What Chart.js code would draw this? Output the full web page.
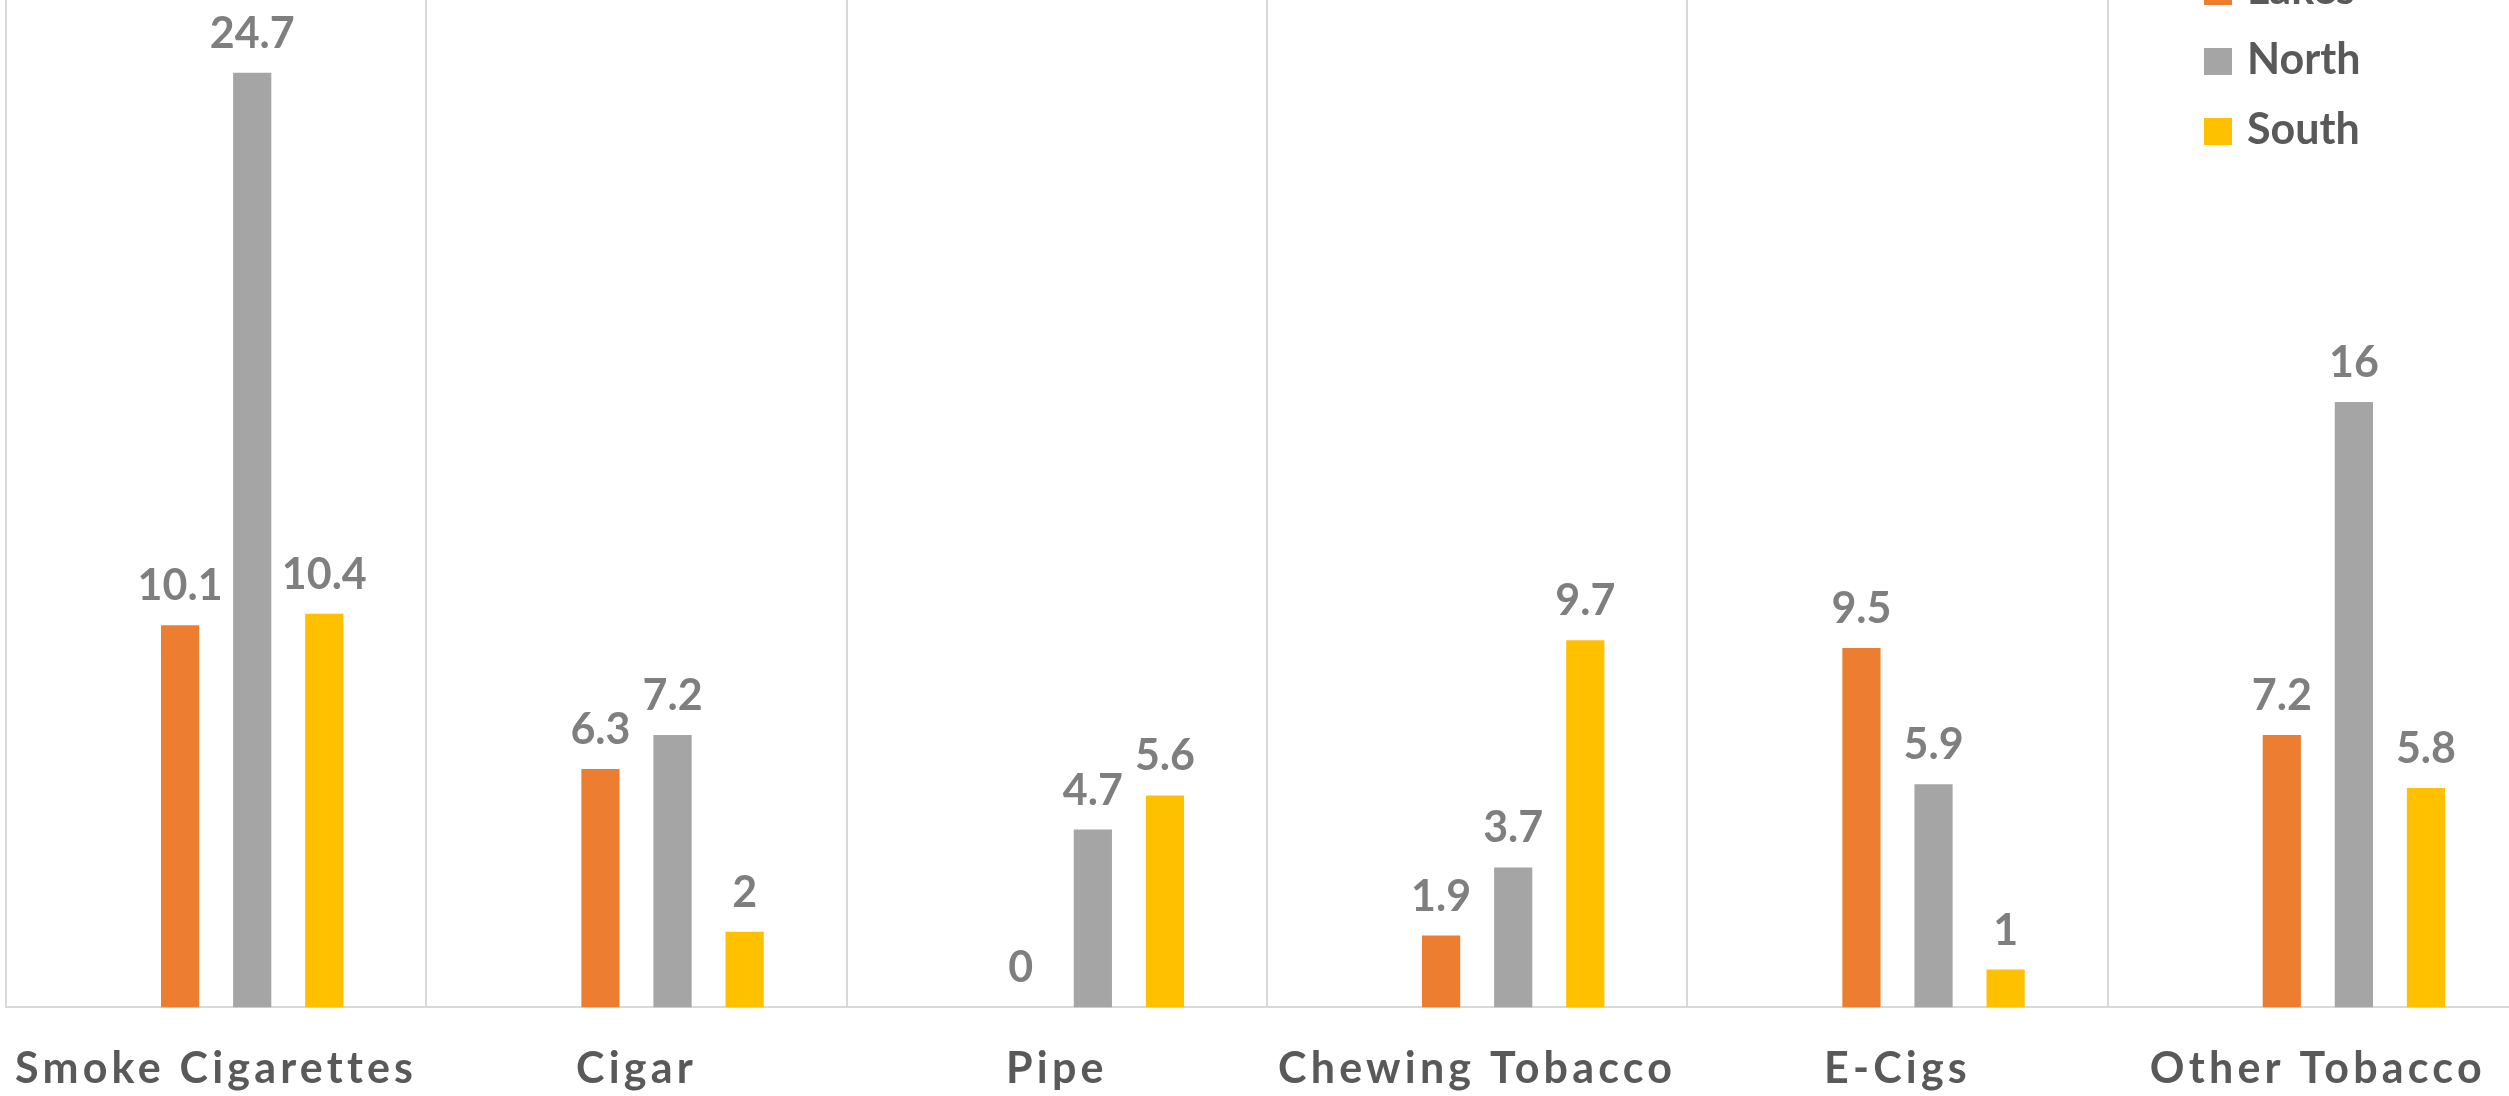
<!DOCTYPE html>
<html>
<head>
<meta charset="utf-8">
<title>Tobacco use by region</title>
<script src="https://cdn.jsdelivr.net/npm/chart.js@4.4.1/dist/chart.umd.min.js"></script>
<style>
  html, body { margin: 0; padding: 0; background: #ffffff; overflow: hidden; }
  body { width: 2509px; height: 1096px; position: relative; }
  #wrap { position: absolute; left: 0; top: -40px; width: 2535px; height: 1171px; }
</style>
</head>
<body>
<div id="wrap"><canvas id="chart" width="2535" height="1171"></canvas></div>
<script>
// Categories and series values
const categories = ['Smoke Cigarettes', 'Cigar', 'Pipe', 'Chewing Tobacco', 'E-Cigs', 'Other Tobacco'];
const seriesNames = ['', 'Lakes', 'North', 'South'];
const blankSeries = [null, null, null, null, null, null];
const lakes = [10.1, 6.3, 0, 1.9, 9.5, 7.2];
const north = [24.7, 7.2, 4.7, 3.7, 5.9, 16];
const south = [10.4, 2, 5.6, 9.7, 1, 5.8];
const seriesColors = ['#4472C4', '#ED7D31', '#A5A5A5', '#FFC000'];

const FONT = 'Lato, "Open Sans", sans-serif';

// Category labels are set with wide letter spacing
const spacedAxisText = {
  id: 'spacedAxisText',
  beforeDraw(chart) {
    chart.ctx.letterSpacing = '4.2px';
  },
  afterDraw(chart) {
    chart.ctx.letterSpacing = '0px';
  }
};

// Value labels above each bar
const valueLabels = {
  id: 'valueLabels',
  afterDatasetsDraw(chart) {
    const ctx = chart.ctx;
    ctx.save();
    ctx.letterSpacing = '0px';
    ctx.font = 'bold 43px ' + FONT;
    ctx.fillStyle = '#7f7f7f';
    ctx.textAlign = 'center';
    ctx.textBaseline = 'alphabetic';
    chart.data.datasets.forEach((ds, di) => {
      const meta = chart.getDatasetMeta(di);
      if (meta.hidden) return;
      meta.data.forEach((bar, i) => {
        const v = ds.data[i];
        if (v === null || v === undefined) return;
        ctx.fillText(String(v), bar.x, bar.y - 25);
      });
    });
    ctx.restore();
  }
};

// Legend drawn inside the plot area, top right
const insideLegend = {
  id: 'insideLegend',
  afterDraw(chart) {
    const ctx = chart.ctx;
    ctx.save();
    ctx.letterSpacing = '0px';
    ctx.font = 'bold 43px ' + FONT;
    ctx.textAlign = 'left';
    ctx.textBaseline = 'middle';
    let y = 18;
    chart.data.datasets.forEach((ds) => {
      if (!ds.label) return;
      ctx.fillStyle = ds.backgroundColor;
      ctx.fillRect(2204, y, 28, 27);
      ctx.fillStyle = '#595959';
      ctx.fillText(ds.label, 2247, y + 12);
      y += 70;
    });
    ctx.restore();
  }
};

const seriesData = [blankSeries, lakes, north, south];

new Chart(document.getElementById('chart'), {
  type: 'bar',
  data: {
    labels: categories,
    datasets: seriesData.map((d, i) => ({
      label: seriesNames[i],
      data: d,
      backgroundColor: seriesColors[i],
      borderWidth: 0,
      categoryPercentage: 0.686,
      barPercentage: 0.53
    }))
  },
  options: {
    responsive: false,
    animation: false,
    devicePixelRatio: 1,
    layout: { padding: { left: 6, right: 7, top: 0, bottom: 0 } },
    plugins: {
      legend: { display: false },
      tooltip: { enabled: false }
    },
    scales: {
      x: {
        grid: {
          display: true,
          offset: true,
          color: '#d9d9d9',
          lineWidth: 2,
          drawTicks: false,
          tickLength: 0
        },
        border: { display: true, color: '#d9d9d9', width: 2 },
        ticks: {
          color: '#595959',
          font: { family: FONT, size: 43, weight: 'bold' },
          padding: 36,
          maxRotation: 0,
          autoSkip: false
        }
      },
      y: {
        display: false,
        min: 0,
        max: 27.68
      }
    }
  },
  plugins: [spacedAxisText, valueLabels, insideLegend]
});
</script>
</body>
</html>
